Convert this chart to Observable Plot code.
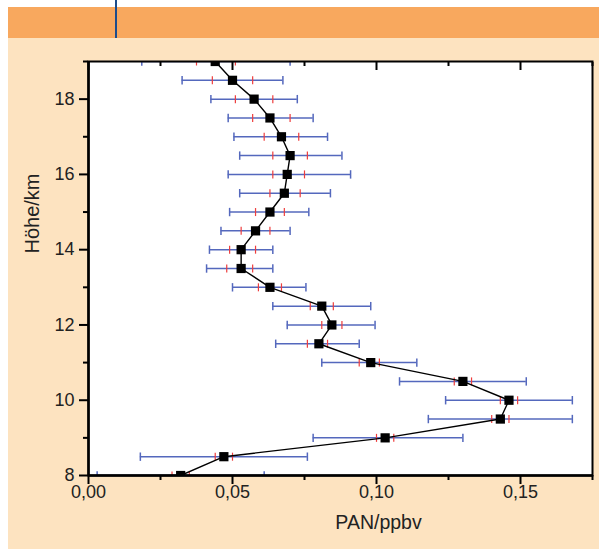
<!DOCTYPE html>
<html>
<head>
<meta charset="utf-8">
<script src="https://cdn.jsdelivr.net/npm/d3@7"></script>
<script src="https://cdn.jsdelivr.net/npm/@observablehq/plot@0.6"></script>
<style>
  html, body { margin: 0; padding: 0; background: #ffffff; }
  #page { position: relative; width: 599px; height: 549px; overflow: hidden; font-family: "Liberation Sans", Arial, sans-serif; }
  #header { position: absolute; left: 8px; top: 7px; width: 591px; height: 31px; background: #f8a85e; }
  #vline { position: absolute; left: 115px; top: 0; width: 2px; height: 38px; background: #1b4c8c; }
  #panel { position: absolute; left: 8px; top: 38px; width: 591px; height: 511px; background: #fde3c0; }
  #chart { position: absolute; left: 0; top: 38px; }
</style>
</head>
<body>
<div id="page">
  <div id="header"></div>
  <div id="vline"></div>
  <div id="panel"></div>
  <div id="chart"></div>
</div>
<script>
// Altitude levels (km)
const altitude = [8, 8.5, 9, 9.5, 10, 10.5, 11, 11.5, 12, 12.5, 13, 13.5, 14, 14.5, 15, 15.5, 16, 16.5, 17, 17.5, 18, 18.5, 19];
// PAN mixing ratio (ppbv)
const pan = [0.032, 0.047, 0.103, 0.143, 0.146, 0.130, 0.098, 0.080, 0.0845, 0.081, 0.063, 0.053, 0.053, 0.058, 0.063, 0.068, 0.069, 0.070, 0.067, 0.063, 0.0575, 0.050, 0.044];
// red (inner) error limits
const redLow  = [0.029, 0.044, 0.100, 0.140, 0.143, 0.127, 0.094, 0.076, 0.081, 0.077, 0.059, 0.048, 0.049, 0.053, 0.058, 0.063, 0.064, 0.064, 0.061, 0.057, 0.051, 0.043, 0.0375];
const redHigh = [0.035, 0.050, 0.106, 0.146, 0.149, 0.133, 0.101, 0.083, 0.088, 0.085, 0.067, 0.057, 0.058, 0.063, 0.068, 0.0735, 0.075, 0.076, 0.073, 0.070, 0.064, 0.057, 0.051];
// blue (outer) error limits
const blueLow  = [0.003, 0.018, 0.078, 0.118, 0.124, 0.108, 0.081, 0.065, 0.069, 0.064, 0.050, 0.041, 0.042, 0.046, 0.049, 0.0525, 0.0485, 0.0525, 0.0505, 0.0485, 0.0425, 0.0325, 0.0185];
const blueHigh = [0.061, 0.076, 0.130, 0.168, 0.168, 0.152, 0.114, 0.094, 0.0995, 0.098, 0.0755, 0.064, 0.064, 0.070, 0.0765, 0.084, 0.091, 0.088, 0.083, 0.078, 0.0725, 0.0675, 0.070];

const xMajor = [0, 0.05, 0.10, 0.15];
const xMinor = [0.025, 0.075, 0.125, 0.175];
const yMajor = [8, 10, 12, 14, 16, 18];
const yMinor = [9, 11, 13, 15, 17, 19];
const xTitle = "PAN/ppbv";
const yTitle = "Höhe/km";

const data = altitude.map((a, i) => ({
  alt: a, pan: pan[i], rlo: redLow[i], rhi: redHigh[i], blo: blueLow[i], bhi: blueHigh[i]
}));

const blue = "#5468bd";
const red = "#ee3d3d";
const txt = "#222222";
const fmt = d => d.toFixed(2).replace(".", ",");

const vbar = {
  draw(context, size) {
    const h = Math.sqrt(size / Math.PI);
    context.moveTo(0, -h);
    context.lineTo(0, h);
  }
};

const chart = Plot.plot({
  width: 599,
  height: 511,
  marginLeft: 88,
  marginRight: 7,
  marginTop: 23,
  marginBottom: 74,
  style: { background: "transparent", fontFamily: "'Liberation Sans', Arial, sans-serif", fontSize: "18px", color: txt },
  x: { domain: [0, 0.175], axis: null },
  y: { domain: [8, 19], axis: null },
  marks: [
    Plot.frame({ fill: "white" }),
    // blue outer error bars
    Plot.ruleY(data, { y: "alt", x1: "blo", x2: "bhi", stroke: blue, strokeWidth: 1.5, clip: true }),
    Plot.dot(data, { x: "blo", y: "alt", symbol: vbar, r: 4.2, stroke: blue, strokeWidth: 1.5, fill: "none", clip: true }),
    Plot.dot(data, { x: "bhi", y: "alt", symbol: vbar, r: 4.2, stroke: blue, strokeWidth: 1.5, fill: "none", clip: true }),
    // red inner error ticks
    Plot.dot(data, { x: "rlo", y: "alt", symbol: vbar, r: 4, stroke: red, strokeWidth: 1.2, fill: "none", clip: true }),
    Plot.dot(data, { x: "rhi", y: "alt", symbol: vbar, r: 4, stroke: red, strokeWidth: 1.2, fill: "none", clip: true }),
    // profile line and markers
    Plot.line(data, { x: "pan", y: "alt", stroke: "black", strokeWidth: 1.4, clip: true }),
    Plot.dot(data, { x: "pan", y: "alt", symbol: "square", r: 5.2, fill: "black", clip: true }),
    // frame
    Plot.frame({ stroke: "black", strokeWidth: 2 }),
    Plot.ruleX([0], { stroke: "black", strokeWidth: 2.5 }),
    Plot.ruleY([8], { stroke: "black", strokeWidth: 2.5 }),
    // bottom axis ticks
    Plot.axisX({ ticks: xMajor, tickSize: 9, tickFormat: () => "", strokeWidth: 2, stroke: "black", label: null }),
    Plot.axisX({ ticks: xMinor, tickSize: 5, tickFormat: () => "", strokeWidth: 2, stroke: "black", label: null }),
    Plot.text(xMajor, { x: d => d, text: fmt, frameAnchor: "bottom", dy: 22, fontSize: 18, fill: txt }),
    // top inward ticks
    Plot.axisX({ anchor: "top", ticks: xMajor, tickSize: 8, dy: 8, tickFormat: () => "", strokeWidth: 2, stroke: "black", label: null }),
    Plot.axisX({ anchor: "top", ticks: xMinor, tickSize: 4, dy: 4, tickFormat: () => "", strokeWidth: 2, stroke: "black", label: null }),
    // left axis ticks
    Plot.axisY({ ticks: yMajor, tickSize: 9, tickFormat: () => "", strokeWidth: 2, stroke: "black", label: null }),
    Plot.axisY({ ticks: yMinor, tickSize: 5, tickFormat: () => "", strokeWidth: 2, stroke: "black", label: null }),
    Plot.text(yMajor, { y: d => d, text: d => String(d), frameAnchor: "left", textAnchor: "end", dx: -14, fontSize: 18, fill: txt }),
    // axis titles
    Plot.text([yTitle], { frameAnchor: "left", dx: -56, dy: -15, rotate: -90, fontSize: 20, fill: txt }),
    Plot.text([xTitle], { frameAnchor: "bottom", dx: 38, dy: 53, fontSize: 19.5, fill: txt })
  ]
});

document.getElementById("chart").appendChild(chart);
</script>
</body>
</html>
